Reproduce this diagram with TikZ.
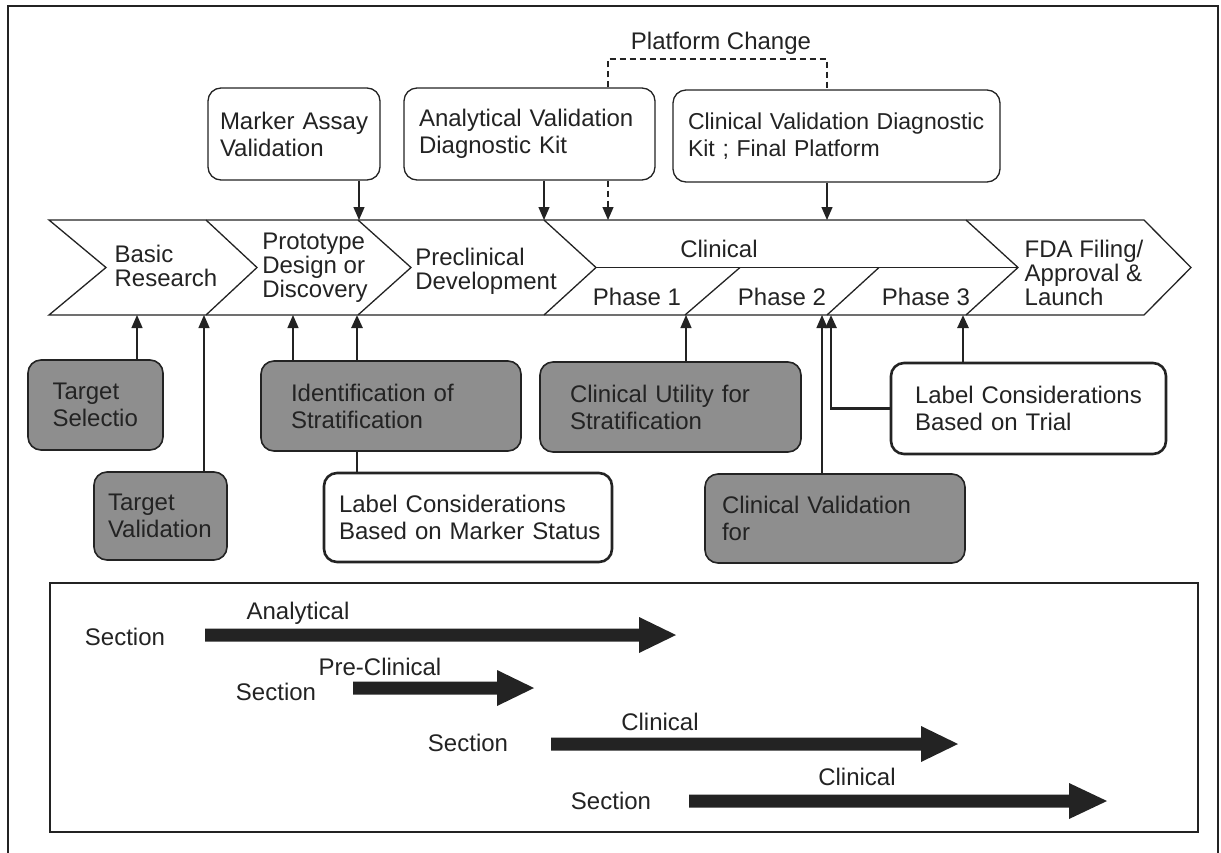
\documentclass[tikz,border=0pt]{standalone}
\usepackage{fontspec}
\setmainfont{Liberation Sans}
\usetikzlibrary{arrows.meta}
\definecolor{boxgrey}{RGB}{142,142,142}
\definecolor{ink}{RGB}{35,35,35}
\newcommand{\fatarr}[4]{\fill[fat] (#1,#4-6.5) -- (#2,#4-6.5) -- (#2,#4-18) -- (#3,#4) -- (#2,#4+18) -- (#2,#4+6.5) -- (#1,#4+6.5) -- cycle;}
\begin{document}
\begin{tikzpicture}[x=1pt,y=-1pt,
  txt/.style={font=\fontsize{24pt}{24pt}\selectfont, align=left, inner sep=0pt, text=ink},
  box/.style={draw=ink, rounded corners=13pt, align=left, font=\fontsize{24pt}{27pt}\selectfont, inner ysep=0pt, line width=1.3pt, text=ink, fill=white},
  gbox/.style={box, fill=boxgrey, line width=1.6pt},
  lbox/.style={box, line width=2.6pt},
  arr/.style={draw=ink, line width=1.3pt, -{Triangle[length=13pt,width=11pt]}},
  tarr/.style={arr, line width=2.6pt},
  band/.style={draw=ink, line width=1.3pt, line join=miter},
  fat/.style={fill=ink}
]
\useasboundingbox (0,0) rectangle (1221,852);
% outer frame
\draw[ink, line width=1.8pt] (8,860) -- (8,6) -- (1218,6) -- (1218,860);

% ---- chevron band ----
\draw[band] (49,220) -- (1144,220) -- (1191,267.5) -- (1144,315) -- (49,315) -- (106,267.5) -- cycle;
\draw[band] (206,220) -- (257,267.5) -- (206,315);
\draw[band] (358,220) -- (411,267.5) -- (358,315);
\draw[band] (544,220) -- (596,267.5) -- (544,315);
\draw[band] (966,220) -- (1018,267.5) -- (966,315);
\draw[band] (596,267.5) -- (1018,267.5);
\draw[band] (685,315) -- (740,267.5);
\draw[band] (827,315) -- (879,267.5);

\node[txt] (br) at (166,266) {Basic\\Research};
\node[txt] (pd) at (315,268) {Prototype\\Design or\\Discovery};
\node[txt] (pc) at (486,271) {Preclinical\\Development};
\node[txt] (cl) at (719,249) {Clinical};
\node[txt] (p1) at (637,297) {Phase 1};
\node[txt] (p2) at (782,297) {Phase 2};
\node[txt] (p3) at (926,297) {Phase 3};
\node[txt] (fda) at (1084,273) {FDA Filing/\\Approval \&\\Launch};

% band anchor coordinates
\coordinate (t1) at (359,220);
\coordinate (t2) at (544,220);
\coordinate (t3) at (608,220);
\coordinate (t4) at (827,220);
\coordinate (b1) at (137,315);
\coordinate (b2) at (204,315);
\coordinate (b3) at (293,315);
\coordinate (b4) at (357,315);
\coordinate (b5) at (686,315);
\coordinate (b6) at (822,315);
\coordinate (b7) at (831,315);
\coordinate (b8) at (963,315);

% ---- top boxes ----
\node[box, text width=148pt, inner xsep=12pt, minimum height=92pt] (mav) at (294,134) {\mbox{Marker Assay}\\\mbox{Validation}};
\node[box, text width=221pt, inner xsep=15pt, minimum height=92pt] (avdk) at (529.5,134) {\mbox{Analytical Validation}\\\mbox{Diagnostic Kit}};
\node[box, font=\fontsize{23pt}{27pt}\selectfont, text width=297pt, inner xsep=15pt, minimum height=92pt] (cvdk) at (836.5,136) {\mbox{Clinical Validation Diagnostic}\\\mbox{Kit ; Final Platform}};
\node[txt] (plat) at (721,43) {Platform Change};
\coordinate (pcl) at (608,59);
\coordinate (pcr) at (827,59);

\draw[ink, line width=1.3pt, dash pattern=on 6pt off 4pt] (avdk.north -| pcl) -- (pcl) -- (pcr) -- (cvdk.north -| pcr);
\draw[arr, dash pattern=on 6pt off 4pt] (avdk.south -| t3) -- (t3);
\draw[arr] (mav.south -| t1) -- (t1);
\draw[arr] (avdk.south -| t2) -- (t2);
\draw[arr] (cvdk.south -| t4) -- (t4);

% ---- lower boxes ----
\node[gbox, text width=86pt, inner xsep=24.5pt, minimum height=90pt] (tsel) at (95.5,405) {\mbox{Target}\\\mbox{Selectio}};
\node[gbox, text width=105pt, inner xsep=14pt, minimum height=88pt] (tval) at (160.5,516) {\mbox{Target}\\\mbox{Validation}};
\node[gbox, text width=200pt, inner xsep=30pt, minimum height=90pt] (ident) at (391,406) {\mbox{Identification of}\\\mbox{Stratification}};
\node[lbox, text width=258pt, inner xsep=15pt, minimum height=89pt] (lblm) at (468,517.5) {\mbox{Label Considerations}\\\mbox{Based on Marker Status}};
\node[gbox, text width=201pt, inner xsep=30pt, minimum height=90pt] (cutil) at (670.5,407) {\mbox{Clinical Utility for}\\\mbox{Stratification}};
\node[gbox, text width=226pt, inner xsep=17pt, minimum height=89pt] (cvalf) at (835,518.5) {\mbox{Clinical Validation}\\\mbox{for}};
\node[lbox, text width=227pt, inner xsep=24pt, minimum height=91pt] (lblt) at (1028.5,408.5) {\mbox{Label Considerations}\\\mbox{Based on Trial}};

\draw[arr] (tsel.north -| b1) -- (b1);
\draw[arr] (tval.north -| b2) -- (b2);
\draw[arr] (ident.north -| b3) -- (b3);
\draw[tarr] (ident.north -| b4) -- (b4);
\draw[ink, line width=2.4pt] (ident.south -| b4) -- (lblm.north -| b4);
\draw[arr] (cutil.north -| b5) -- (b5);
\draw[arr] (cvalf.north -| b6) -- (b6);
\draw[tarr] (lblt.west) -| (b7);
\draw[tarr] (lblt.north -| b8) -- (b8);

% ---- legend box ----
\draw[ink, line width=1.8pt] (50,583) rectangle (1198,832);
\node[txt] (s1) at (125,637) {Section};
\node[txt] (s2) at (276,692) {Section};
\node[txt] (s3) at (468,743) {Section};
\node[txt] (s4) at (611,801) {Section};
\node[txt] (l1) at (298,613) {Analytical};
\node[txt] (l2) at (380,667) {Pre-Clinical};
\node[txt] (l3) at (660,722) {Clinical};
\node[txt] (l4) at (857,777) {Clinical};
\fatarr{205}{639}{676}{635}
\fatarr{353}{497}{534}{688}
\fatarr{551}{921}{958}{744}
\fatarr{689}{1069}{1107}{801}
\end{tikzpicture}
\end{document}
